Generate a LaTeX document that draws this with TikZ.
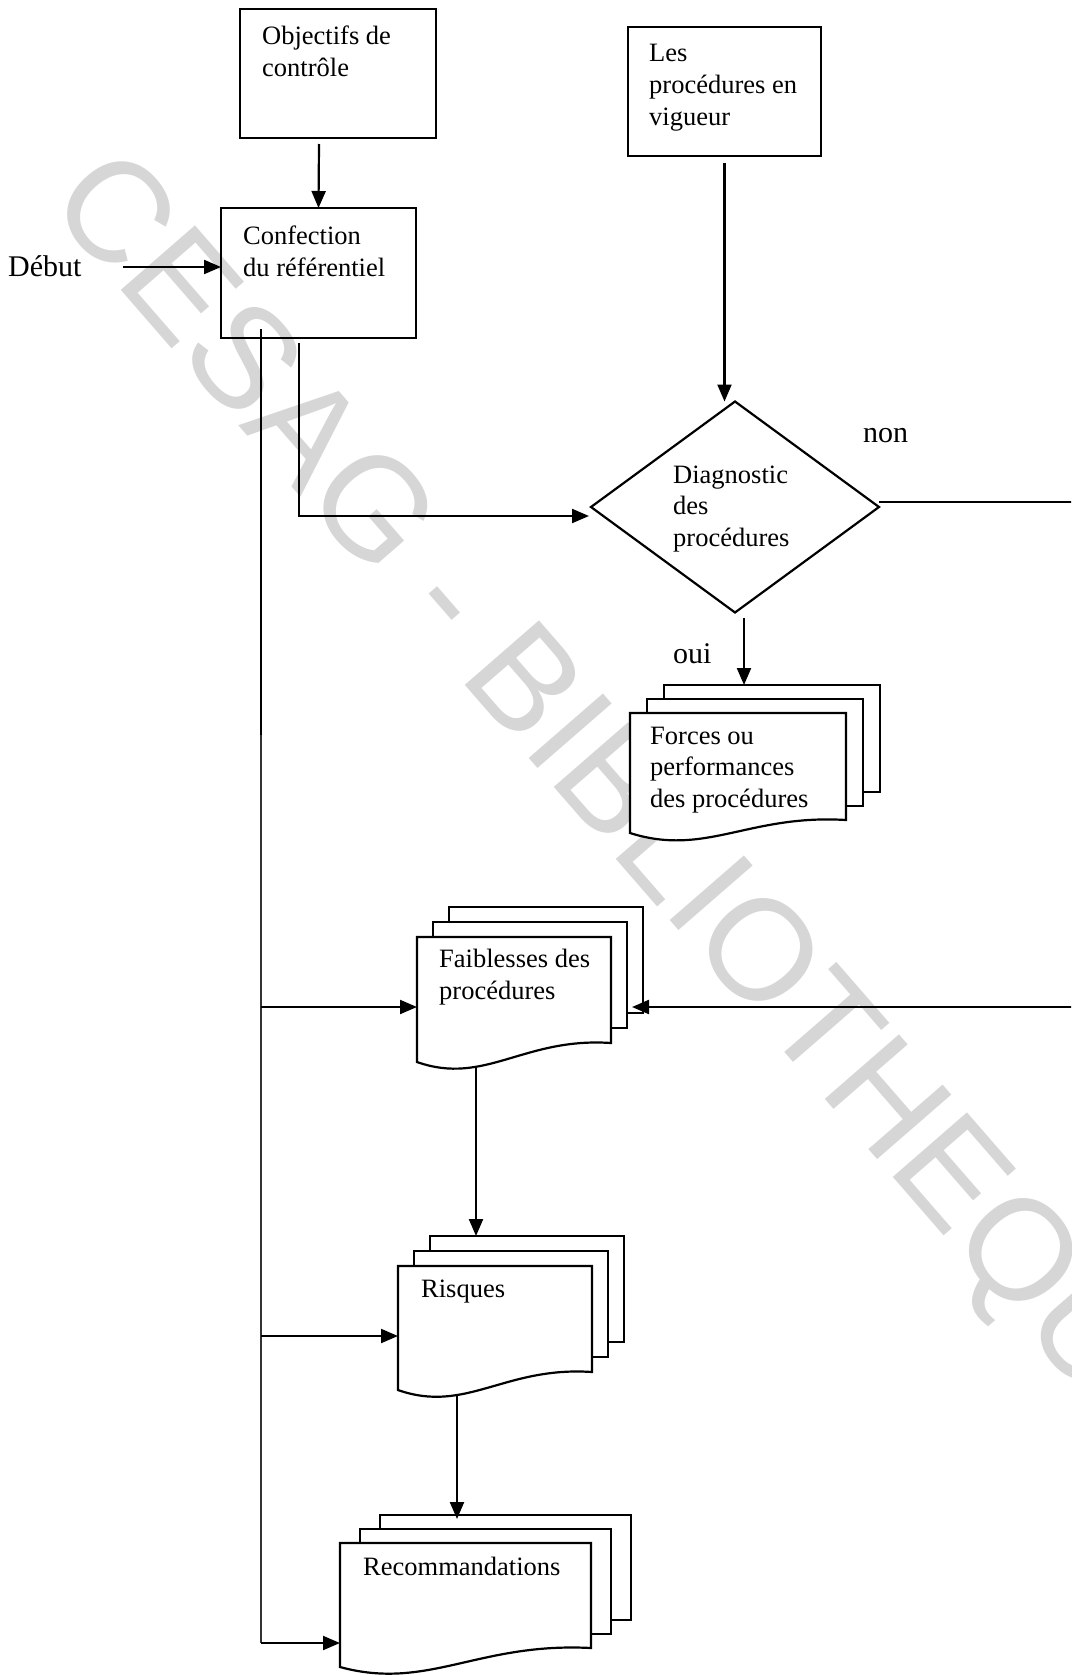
\documentclass[tikz,border=0pt]{standalone}
\usepackage{fontspec}
\setmainfont{Liberation Serif}
\newfontfamily\wmfont{Liberation Sans}
\usetikzlibrary{arrows.meta,shapes.geometric,calc}

\newcommand{\mdoc}[8]{%
  \draw[sheet] ({#2+2*#7},{#3-2*#8}) rectangle ({#4+2*#7},{#5-2*#8});
  \draw[sheet] ({#2+#7},{#3-#8}) rectangle ({#4+#7},{#5-#8});
  \draw[sheet] (#2,#3) -- (#4,#3) -- (#4,#5) .. controls ({#4-0.45*(#4-#2)},{#5-6}) and ({#2+0.35*(#4-#2)},{#6+24}) .. (#2,#6) -- cycle;
  \node[inner sep=0, outer sep=0, minimum width={(#4-#2)*1pt}, minimum height={(#6-#3)*1pt}, anchor=north west] (#1) at (#2,#3) {};
}

\begin{document}
\begin{tikzpicture}[x=1pt,y=-1pt,
  ln/.style={line width=2.2pt, black},
  arr/.style={ln,-{Triangle[length=17pt,width=14pt]}},
  thinarr/.style={line width=2pt, black,-{Triangle[length=17pt,width=14pt]}},
  boxtxt/.style={font=\fontsize{26.5}{31.5}\selectfont, align=left, inner sep=0, anchor=base west},
  lbl/.style={font=\fontsize{30}{36}\selectfont, inner sep=0, anchor=base west},
  sheet/.style={ln, fill=white, line join=miter},
  boxst/.style={draw, ln, inner sep=0, outer sep=0, anchor=north west}
]
\useasboundingbox (0,0) rectangle (1071,1675);
\clip (0,0) rectangle (1071,1675);
\fill[white] (0,0) rectangle (1071,1675);

% watermark
\node[text=black!16, font=\wmfont\fontsize{143}{143}\selectfont, rotate=-49, inner sep=0] (wm) at (626,815) {CESAG - BIBLIOTHEQUE};

% rectangles (text nodes: base = baseline of the last line)
\node[boxst, minimum width=196pt, minimum height=129pt] (obj) at (240,9) {};
\node[boxtxt] (objT) at (262,76.5) {Objectifs de\\contrôle};

\node[boxst, minimum width=193pt, minimum height=129pt] (proc) at (628,27) {};
\node[boxtxt] (procT) at (649,125) {Les\\procédures en\\vigueur};

\node[boxst, minimum width=195pt, minimum height=130pt] (conf) at (221,208) {};
\node[boxtxt] (confT) at (243,276) {Confection\\du référentiel};

% diamond
\node[draw, ln, diamond, minimum width=288pt, minimum height=211pt, inner sep=0, outer sep=0] (diag) at (735,507) {};
\node[boxtxt] (diagT) at (673,546) {Diagnostic\\des\\procédures};

% document stacks
\mdoc{forces}{630}{713}{846}{820}{833}{17}{14}
\node[boxtxt] (forcesT) at (650,807) {Forces ou\\performances\\des procédures};

\mdoc{fai}{417}{937}{611}{1043}{1062}{16}{15}
\node[boxtxt] (faiT) at (439,999) {Faiblesses des\\procédures};

\mdoc{ris}{398}{1266}{592}{1372}{1390}{16}{15}
\node[boxtxt] (risT) at (421,1297) {Risques};

\mdoc{rec}{340}{1543}{591}{1648}{1667}{20}{14}
\node[boxtxt] (recT) at (363,1575) {Recommandations};

% labels
\node[lbl] (debut) at (8,276) {Début};
\node[lbl] (non) at (863,442) {non};
\node[lbl] (oui) at (673,663) {oui};

% connectors
\draw[arr] ($(obj.south)+(-19,6)$) -- (conf.north);
\draw[arr] ($(debut.base east)+(41,-9)$) -- ($(conf.west)+(0,-6)$);
\draw[arr] ($(proc.south)+(0,7)$) -- (proc.south |- diag.north);
\draw[arr] ($(diag.south)+(9,5)$) -- ($(forces.north west)+(114,-28)$);
\draw[arr] ($(conf.south)+(-19.5,5)$) |- ($(diag.west)+(-2,9)$);

% non branch to Faiblesses (vertical part lies beyond the right edge)
\coordinate (faiR) at ($(fai.north west)+(215,70)$);
\draw[arr] ($(diag.east)+(0,-5)$) -- (1090,502) |- (faiR);

% left bus
\coordinate (busTop) at ($(conf.south)+(-57.5,-9)$);
\coordinate (busMid) at (261,735);
\coordinate (busBot) at (261,1643);
\draw[ln] (busTop) -- (busMid);
\draw[line width=1.4pt, black!80] (busMid) -- (busBot);
\draw[thinarr] (busMid |- 0,1007) -- ($(fai.north west)+(0,70)$);
\draw[thinarr] (busMid |- 0,1336) -- ($(ris.north west)+(0,70)$);
\draw[thinarr] (busBot) -- ($(rec.north west)+(0,100)$);

% vertical flow between documents
\draw[arr] ($(fai.south west)+(59,4)$) -- ($(ris.north west)+(78,-30)$);
\draw[arr] ($(ris.south west)+(59,4)$) -- ($(rec.north west)+(117,-24)$);
\end{tikzpicture}
\end{document}
